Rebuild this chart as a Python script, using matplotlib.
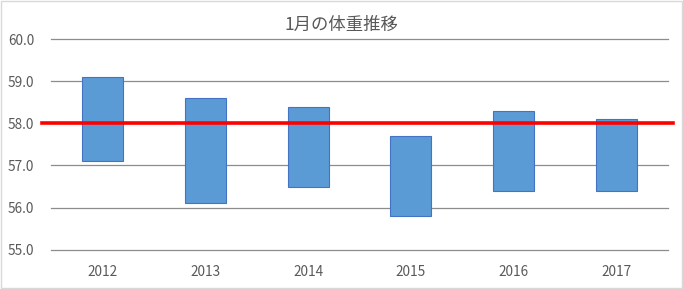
import matplotlib
matplotlib.use("Agg")
import matplotlib.pyplot as plt
from matplotlib.patches import Rectangle

plt.rcParams['font.family'] = ['Noto Sans CJK JP', 'DejaVu Sans']

years = ['2012', '2013', '2014', '2015', '2016', '2017']
low = [57.1, 56.1, 56.5, 55.8, 56.4, 56.4]
high = [59.1, 58.6, 58.4, 57.7, 58.3, 58.1]
target = 58.0
yticks = [55.0, 56.0, 57.0, 58.0, 59.0, 60.0]

fig = plt.figure(figsize=(6.83, 2.89), dpi=100)
ax = fig.add_axes([51/683, 39.4/289, 617/683, 210.3/289])

x = range(len(years))
ax.bar(x, [h - l for h, l in zip(high, low)], bottom=low, width=0.4,
       color='#5B9BD5', edgecolor='#4472C4', linewidth=0.8, zorder=3)
ax.axhline(target, xmin=-0.0146, xmax=1.008, color='#FF0000', lw=2.6,
           clip_on=False, zorder=4)

ax.set_xlim(-0.5, len(years) - 0.5)
ax.set_ylim(55, 60)
ax.set_yticks(yticks)
ax.set_yticklabels([f'{v:.1f}' for v in yticks])
ax.set_xticks(list(x))
ax.set_xticklabels(years)
ax.tick_params(length=0, labelsize=9.8, labelcolor='#595959')
ax.tick_params(axis='y', pad=12)
ax.tick_params(axis='x', pad=11)
for v in yticks:
    ax.axhline(v, color='#8C8C8C', lw=0.9, zorder=0, clip_on=False)
for s in ax.spines.values():
    s.set_visible(False)

fig.text(0.5, 1 - 25/289, '1月の体重推移', ha='center', va='center',
         fontsize=12.5, color='#595959')
fig.patches.append(Rectangle((0.001, 0.002), 0.997, 0.995, transform=fig.transFigure,
                             fill=False, edgecolor='#D9D9D9', lw=1))

fig.savefig('out.png', dpi=100)
